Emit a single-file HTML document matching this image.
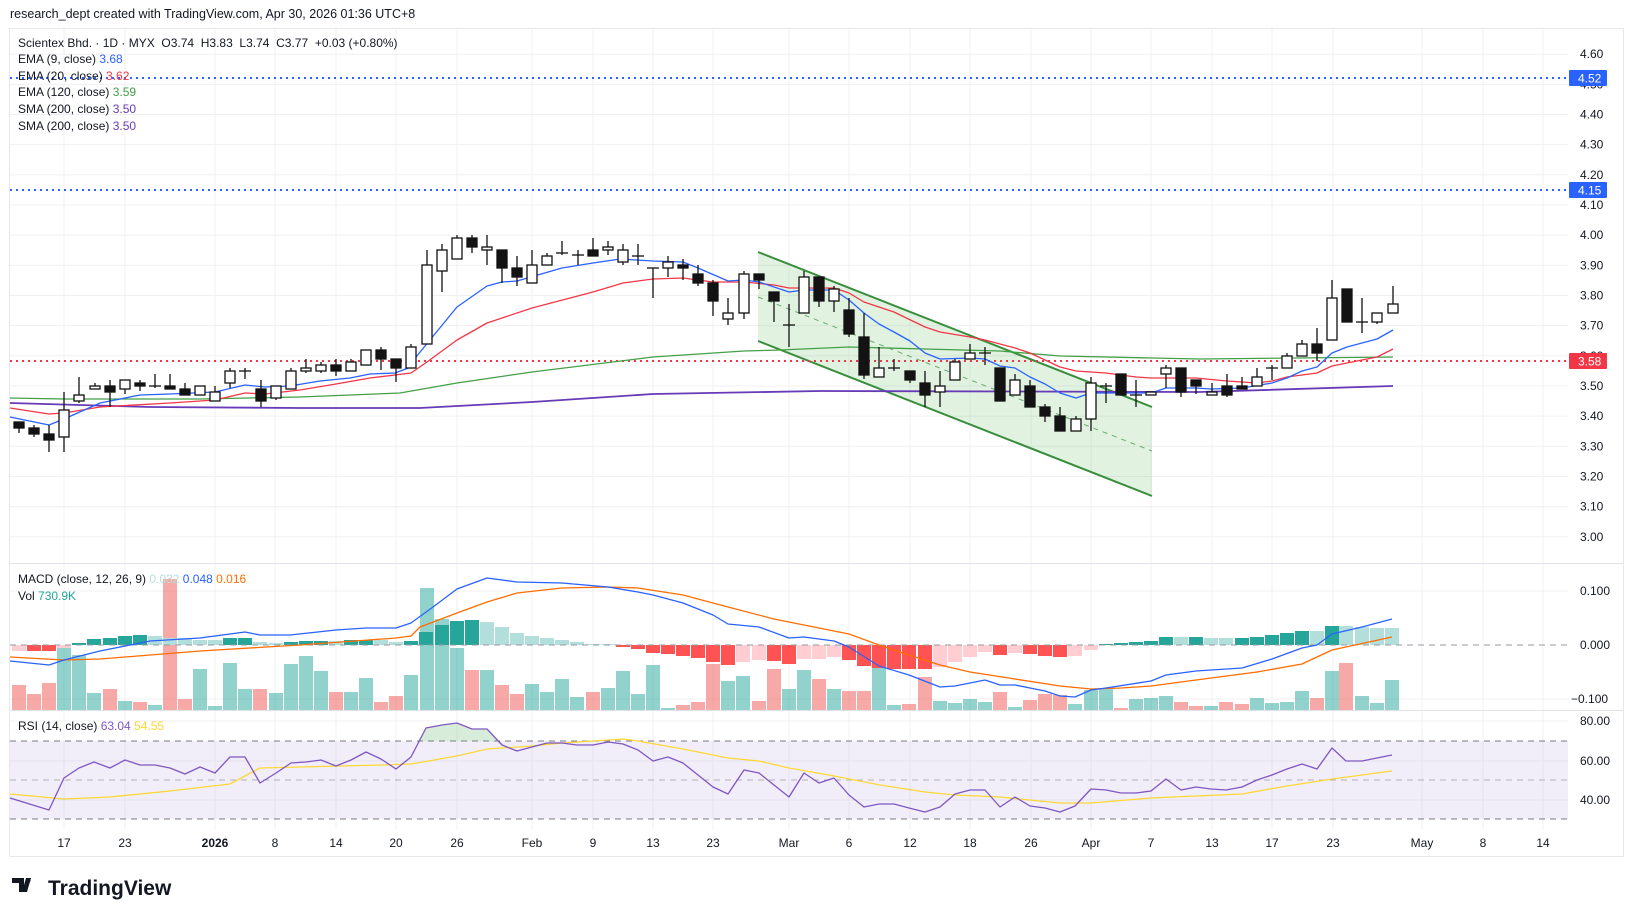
<!DOCTYPE html>
<html><head><meta charset="utf-8"><style>
body{margin:0;background:#fff;width:1634px;height:917px;overflow:hidden;font-family:"Liberation Sans",sans-serif}
svg{position:absolute;left:0;top:0}
text{font-family:"Liberation Sans",sans-serif}
</style></head><body>
<svg id="s" width="1634" height="917" xmlns="http://www.w3.org/2000/svg">
<rect x="0" y="0" width="1634" height="917" fill="#fff"/>
<rect x="9.5" y="28.5" width="1614" height="828" fill="none" stroke="#e8e8ea"/>
<g id="grid" stroke="#f0f0f2" stroke-width="1"></g>
<g id="g"></g>
<text x="10" y="18" font-size="12.5" fill="#131722">research_dept created with TradingView.com, Apr 30, 2026 01:36 UTC+8</text>
<g font-size="12" fill="#131722">
<text x="18" y="47" xml:space="preserve">Scientex Bhd. · 1D · MYX  O3.74  H3.83  L3.74  C3.77  +0.03 (+0.80%)</text>
<text x="18" y="63">EMA (9, close) <tspan fill="#2962ff">3.68</tspan></text>
<text x="18" y="80">EMA (20, close) <tspan fill="#f23645">3.62</tspan></text>
<text x="18" y="96">EMA (120, close) <tspan fill="#43a047">3.59</tspan></text>
<text x="18" y="113">SMA (200, close) <tspan fill="#673ab7">3.50</tspan></text>
<text x="18" y="130">SMA (200, close) <tspan fill="#673ab7">3.50</tspan></text>
<text x="18" y="583">MACD (close, 12, 26, 9) <tspan fill="#b2dfdb">0.032</tspan> <tspan fill="#2962ff">0.048</tspan> <tspan fill="#ff6d00">0.016</tspan></text>
<text x="18" y="600">Vol <tspan fill="#26a69a">730.9K</tspan></text>
<text x="18" y="730">RSI (14, close) <tspan fill="#7e57c2">63.04</tspan> <tspan fill="#fdd835">54.55</tspan></text>
</g>
<g id="ax" font-size="12" fill="#131722"></g>
<g transform="translate(12,878)">
<path d="M0 0h12v14h-5v-9h-7z M14 0h5l-4 14h-5z" fill="#131722"/>
<circle cx="16" cy="2.5" r="2.5" fill="#131722"/>
<text x="36" y="17" font-size="21" font-weight="bold" fill="#131722">TradingView</text>
</g>
</svg>
<script>
const NS="http://www.w3.org/2000/svg",g=document.getElementById('g'),gr=document.getElementById('grid'),ax=document.getElementById('ax');
function el(p,t,a){const e=document.createElementNS(NS,t);for(const k in a)e.setAttribute(k,a[k]);p.appendChild(e);return e;}
function txt(p,x,y,s,a){const e=el(p,'text',Object.assign({x:x,y:y},a||{}));e.textContent=s;return e;}
function py(p){return 54.2+(4.6-p)*301.6;}
const vx=[64,125,215,275,336,396,457,532,593,653,713,789,849,910,970,1031,1091,1151,1212,1272,1333,1422,1483,1543];
vx.forEach(x=>el(gr,'line',{x1:x,x2:x,y1:29,y2:830}));
for(let p=3.0;p<=4.601;p+=0.1){const y=py(p);el(gr,'line',{x1:10,x2:1568,y1:y,y2:y});}
[591,699,761,800,721].forEach(y=>el(gr,'line',{x1:10,x2:1568,y1:y,y2:y}));
el(gr,'line',{x1:10,x2:1623,y1:563.5,y2:563.5,stroke:'#e0e3eb'});
el(gr,'line',{x1:10,x2:1623,y1:710.5,y2:710.5,stroke:'#e0e3eb'});
el(g,'rect',{x:10,y:741,width:1558,height:78,fill:'#7e57c2','fill-opacity':0.1});
// channel
el(g,'polygon',{points:'758,252 1152,407 1152,496 758,341',fill:'#4caf50','fill-opacity':0.17});
el(g,'line',{x1:758,y1:252,x2:1152,y2:407,stroke:'#388e3c','stroke-width':2});
el(g,'line',{x1:758,y1:341,x2:1152,y2:496,stroke:'#388e3c','stroke-width':2});
el(g,'line',{x1:758,y1:297,x2:1152,y2:451,stroke:'#388e3c','stroke-width':1,'stroke-dasharray':'5,5','stroke-opacity':0.7});
function pl(pts,col,w,extra){el(g,'polyline',Object.assign({points:pts.map(p=>p.join(',')).join(' '),fill:'none',stroke:col,'stroke-width':w||1.3,'stroke-linejoin':'round'},extra||{}));}
[[78,'#2962ff'],[190,'#2962ff'],[361,'#f23645']].forEach(([y,c])=>el(g,'line',{x1:10,x2:1568,y1:y,y2:y,stroke:c,'stroke-width':2,'stroke-dasharray':'2,4'}));
pl([[10,403],[150,407],[300,408],[420,408],[532,402],[653,394],[820,391],[1200,392],[1393,386]],'#673ab7',1.8);
pl([[10,398],[64,399],[200,399],[300,397],[400,393],[457,383],[532,372],[653,357],[744,351],[780,350],[849,347],[925,349],[1000,351],[1060,356],[1152,358],[1200,359],[1393,357]],'#43a047',1.3);
pl([[10,408],[49,414],[64,413],[100,407],[170,403],[215,400],[245,393],[265,394],[300,390],[336,384],[370,378],[395,375],[411,373],[427,362],[457,340],[487,323],[532,308],[593,292],[623,283],[653,279],[683,278],[713,282],[744,282],[774,285],[789,288],[820,288],[834,288],[849,293],[864,302],[894,312],[925,327],[940,332],[970,337],[985,340],[1015,348],[1030,353],[1045,360],[1060,367],[1076,371],[1106,373],[1136,377],[1151,378],[1196,378],[1227,381],[1257,383],[1272,381],[1287,377],[1302,375],[1317,373],[1332,366],[1347,363],[1377,357],[1393,349]],'#f23645',1.3);
pl([[10,417],[49,425],[64,419],[100,403],[140,395],[170,394],[215,392],[245,385],[265,387],[290,386],[320,381],[350,378],[370,374],[395,373],[411,367],[416,357],[457,307],[487,286],[502,282],[517,281],[562,268],[593,263],[620,259],[653,261],[683,262],[698,268],[728,281],[744,280],[759,282],[789,292],[804,290],[834,290],[849,300],[864,313],[879,324],[894,332],[910,341],[925,353],[940,359],[970,358],[985,359],[1000,366],[1015,368],[1030,377],[1045,384],[1060,393],[1076,398],[1091,393],[1121,393],[1151,393],[1166,388],[1196,388],[1211,389],[1242,388],[1272,383],[1287,378],[1302,371],[1317,367],[1332,353],[1347,347],[1377,339],[1393,330]],'#2962ff',1.3);
const C=[
[19,422,428,422,433,0],[34,428,434,425,437,0],[49,434,440,425,452,0],[64,410,437,392,452,1],[79,395,401,377,403,1],[95,386,389,383,389,1],[110,386,392,380,407,0],[125,380,389,380,394,1],[140,383,386,380,391,0],[155,386,386,374,388,1],[170,386,389,374,389,0],[185,389,395,383,395,0],[200,386,395,386,395,1],[215,392,401,386,401,1],[230,371,383,368,388,1],[245,371,371,368,379,1],[261,389,401,380,407,0],[276,386,398,386,400,1],[291,371,389,368,389,1],[306,368,371,359,373,1],[321,365,371,362,373,1],[336,365,371,359,376,0],[351,362,371,359,371,1],[366,350,365,350,365,1],[381,350,359,347,370,0],[396,359,368,359,382,0],[411,347,368,344,368,1],
[427,265,344,250,344,1],[442,250,271,244,292,1],[457,238,259,235,259,1],[472,238,247,235,253,0],[487,247,250,235,265,1],[502,250,268,250,283,0],[517,268,277,256,286,0],[532,265,283,250,283,1],[547,256,265,253,265,1],[562,253,253,241,255,1],[578,255,255,250,265,1],[593,250,256,238,256,0],[608,247,250,241,255,1],[623,250,262,244,265,1],[638,256,256,244,265,1],[653,268,268,268,298,1],[668,262,268,256,277,1],[683,265,268,259,280,0],[698,274,283,265,286,0],[713,283,301,280,316,0],[728,313,319,298,325,1],[744,274,313,271,319,1],[759,274,280,274,289,0],[774,292,301,292,322,0],[789,325,325,304,347,1],[804,277,313,271,313,1],
[819,277,301,277,307,0],[834,289,301,286,312,1],[849,310,334,298,337,0],[864,337,375,313,379,0],[879,368,377,347,377,1],[894,368,368,359,371,1],[910,371,380,371,383,0],[925,383,395,371,407,0],[940,386,392,371,407,1],[955,362,380,359,380,1],[970,353,359,344,359,1],[985,353,353,347,365,1],[1000,368,401,368,401,0],[1015,380,395,374,395,1],[1030,386,407,380,407,0],[1045,407,416,404,422,0],[1060,416,431,407,431,0],[1076,419,431,416,431,1],[1091,383,419,377,431,1],[1106,386,386,383,403,1],[1121,374,395,374,395,0],[1136,395,395,380,407,1],[1151,392,395,392,395,1],[1166,368,374,365,388,1],[1181,368,392,368,397,0],[1196,380,386,380,394,0],
[1212,392,395,383,395,1],[1227,386,395,374,397,0],[1242,386,389,377,389,0],[1257,377,386,368,386,1],[1272,368,368,365,380,1],[1287,356,368,353,368,1],[1302,344,356,340,356,1],[1317,344,353,328,361,0],[1332,298,340,280,340,1],[1347,289,322,289,322,0],[1362,322,322,298,333,1],[1377,313,322,313,324,1],[1393,304,313,286,313,1]];
C.forEach(c=>{const [x,bt,bb,wt,wb,u]=c;
 el(g,'line',{x1:x,x2:x,y1:Math.min(wt,bt),y2:Math.max(wb,bb),stroke:'#111','stroke-width':1.3});
 const h=Math.max(bb-bt,1);
 if(h<=1){el(g,'line',{x1:x-6,x2:x+6,y1:bt,y2:bt,stroke:'#111','stroke-width':1.3});}
 else el(g,'rect',{x:x-5,y:bt,width:10,height:h,fill:u?'#fff':'#131313',stroke:'#111','stroke-width':1.3});
});
const V=[[19,685,0],[34,694,0],[49,683,0],[64,648,1],[79,655,1],[94,693,1],[110,689,0],[125,701,1],[140,702,0],[155,705,1],[170,579,0],[185,699,0],[200,669,1],[215,706,1],[230,663,1],[245,689,1],[260,689,0],[276,693,1],[291,664,1],[306,656,1],[321,671,1],[336,692,0],[351,692,1],[366,678,1],[381,702,0],[396,696,0],[411,675,1],[427,588,1],[442,619,1],[457,648,1],[472,670,0],[487,670,1],[502,685,0],[517,694,0],[532,684,1],[547,692,1],[562,679,1],[577,697,1],[593,692,0],[608,688,1],[623,671,1],[638,694,1],[653,665,1],[668,708,1],[683,705,0],[698,702,0],[713,664,0],[728,681,1],[743,676,1],[759,701,0],[774,669,0],[789,689,1],[804,670,1],[819,679,0],[834,689,1],[849,691,0],[864,691,0],[879,668,1],[894,705,1],[909,704,0],[925,677,0],[940,701,1],[955,703,1],[970,699,1],[985,702,1],[1000,692,0],[1015,707,1],[1030,700,0],[1045,694,0],[1060,695,0],[1075,704,1],[1091,690,1],[1106,689,1],[1121,708,0],[1136,699,1],[1151,698,1],[1166,696,1],[1181,702,0],[1196,706,0],[1211,706,1],[1226,702,0],[1242,704,0],[1257,698,1],[1272,703,1],[1287,702,1],[1302,691,1],[1317,698,0],[1332,671,1],[1346,663,0],[1362,696,1],[1377,703,1],[1392,680,1]];
V.forEach(([x,t,u])=>el(g,'rect',{x:x-7,y:t,width:14,height:710-t,fill:u?'#26a69a':'#ef5350','fill-opacity':0.5}));
const H=[[19,651,3],[34,651,2],[49,651,2],[64,648,3],[79,643,0],[94,639,0],[110,638,0],[125,636,0],[140,635,0],[155,636,1],[170,638,1],[185,638,1],[200,640,1],[215,640,1],[230,638,0],[245,638,0],[260,642,1],[276,643,1],[291,642,0],[306,641,0],[321,641,0],[336,641,1],[351,640,0],[366,640,0],[381,640,1],[396,642,1],[411,641,0],[426,632,0],[442,625,0],[457,621,0],[472,620,0],[487,622,1],[502,627,1],[517,633,1],[532,636,1],[547,638,1],[562,640,1],[577,642,1],[593,644,1],[608,644,1],[623,647,2],[638,649,2],[653,653,2],[668,654,2],[683,656,2],[698,658,2],[713,662,2],[728,665,2],[743,662,3],[759,660,3],[774,661,2],[789,664,2],[804,659,3],[819,659,3],[834,657,3],[849,660,2],[864,666,2],[879,668,2],[894,669,2],[909,669,2],[925,669,2],[940,667,3],[955,662,3],[970,657,3],[985,652,3],[1000,655,2],[1015,653,3],[1030,654,2],[1045,656,2],[1060,657,2],[1075,656,3],[1091,650,3],[1106,644,0],[1121,643,0],[1136,642,0],[1151,641,0],[1166,637,0],[1181,637,1],[1196,637,0],[1211,638,1],[1226,638,1],[1242,638,0],[1257,637,0],[1272,635,0],[1287,633,0],[1302,631,0],[1317,631,1],[1332,626,0],[1346,626,1],[1362,627,1],[1377,628,1],[1392,628,1]];
const hc=['#26a69a','#b2dfdb','#ff5252','#ffcdd2'];
H.forEach(([x,y,t])=>{const y0=Math.min(645,y),h=Math.max(Math.abs(y-645),1);el(g,'rect',{x:x-7,y:y0,width:14,height:h,fill:hc[t]});});
el(g,'line',{x1:10,x2:1568,y1:645,y2:645,stroke:'#9598a1','stroke-dasharray':'6,5'});
pl([[10,657],[64,660],[100,659],[200,651],[300,645],[396,638],[411,636],[420,627],[457,613],[487,602],[517,593],[562,588],[608,587],[638,588],[683,595],[728,607],[774,619],[819,628],[849,634],[879,645],[909,655],[940,665],[970,672],[1015,679],[1060,686],[1091,689],[1121,688],[1151,686],[1196,680],[1257,672],[1302,664],[1332,650],[1392,637]],'#ff6d00',1.3);
pl([[10,661],[49,665],[64,660],[100,651],[150,641],[200,638],[245,632],[260,635],[290,635],[336,630],[366,628],[396,628],[411,623],[433,607],[457,589],[487,578],[517,582],[562,583],[608,587],[638,592],[653,595],[683,603],[713,615],[728,624],[759,627],[789,638],[804,637],[834,641],[849,647],[879,666],[909,675],[940,687],[955,686],[985,680],[1000,685],[1015,685],[1045,691],[1060,696],[1075,697],[1091,690],[1106,688],[1151,681],[1166,675],[1196,671],[1242,668],[1272,659],[1302,648],[1317,645],[1332,634],[1362,627],[1392,619]],'#2962ff',1.3);
[[741,'#787b86'],[780,'#b0b2b8'],[819,'#787b86']].forEach(([y,c])=>el(g,'line',{x1:10,x2:1568,y1:y,y2:y,stroke:c,'stroke-dasharray':'6,5'}));
el(g,'polygon',{points:'418,741 426,728 442,725 457,723 472,729 487,729 497,741',fill:'#4caf50','fill-opacity':0.22});
pl([[10,794],[64,799],[110,797],[170,791],[230,784],[260,768],[300,767],[380,765],[411,764],[457,756],[487,749],[532,746],[562,743],[608,740],[623,739],[638,741],[683,749],[728,758],[759,761],[789,768],[834,776],[880,785],[925,792],[955,795],[1000,797],[1060,803],[1091,803],[1151,798],[1196,796],[1242,794],[1287,786],[1332,779],[1392,771]],'#fdd835',1.3);
pl([[10,798],[49,810],[64,778],[79,768],[94,762],[110,768],[125,760],[140,765],[155,765],[170,768],[185,774],[200,767],[215,773],[230,757],[245,757],[260,783],[276,773],[291,763],[306,762],[321,760],[336,766],[351,760],[366,752],[381,759],[396,769],[411,757],[426,728],[442,725],[457,723],[472,729],[487,729],[502,745],[517,751],[532,747],[547,743],[562,743],[577,745],[593,745],[608,742],[623,744],[638,750],[653,761],[668,757],[683,763],[698,775],[713,787],[728,794],[744,770],[759,773],[774,785],[789,797],[804,773],[819,783],[834,778],[849,795],[864,807],[879,804],[894,804],[909,808],[925,812],[940,807],[955,794],[970,790],[985,790],[1000,807],[1015,797],[1030,806],[1045,808],[1060,812],[1075,806],[1091,789],[1106,790],[1121,793],[1136,793],[1151,791],[1166,779],[1181,790],[1196,787],[1211,789],[1226,790],[1242,787],[1257,780],[1272,775],[1287,769],[1302,764],[1317,769],[1332,748],[1346,761],[1362,761],[1377,758],[1392,755]],'#7e57c2',1.3);
for(let i=0;i<=16;i++){const p=3+i*0.1,y=py(p);txt(ax,1580,y+4,p.toFixed(2));}
[[78,'4.52','#2962ff'],[190,'4.15','#2962ff'],[361,'3.58','#f23645']].forEach(([y,s,c])=>{el(ax,'rect',{x:1569,y:y-8,width:38,height:16,fill:c,rx:1});txt(ax,1578,y+4.5,s,{fill:'#fff'});});
[[591,'0.100'],[645,'0.000'],[699,'−0.100']].forEach(([y,s],i)=>txt(ax,i==2?1571:1580,y+4,s));
[[721,'80.00'],[761,'60.00'],[800,'40.00']].forEach(([y,s])=>txt(ax,1580,y+4,s));
[[64,'17'],[125,'23'],[215,'2026',1],[275,'8'],[336,'14'],[396,'20'],[457,'26'],[532,'Feb'],[593,'9'],[653,'13'],[713,'23'],[789,'Mar'],[849,'6'],[910,'12'],[970,'18'],[1031,'26'],[1091,'Apr'],[1151,'7'],[1212,'13'],[1272,'17'],[1333,'23'],[1422,'May'],[1483,'8'],[1543,'14']].forEach(([x,s,b])=>txt(ax,x,847,s,{'text-anchor':'middle','font-weight':b?'bold':'normal'}));
</script>
</body></html>
